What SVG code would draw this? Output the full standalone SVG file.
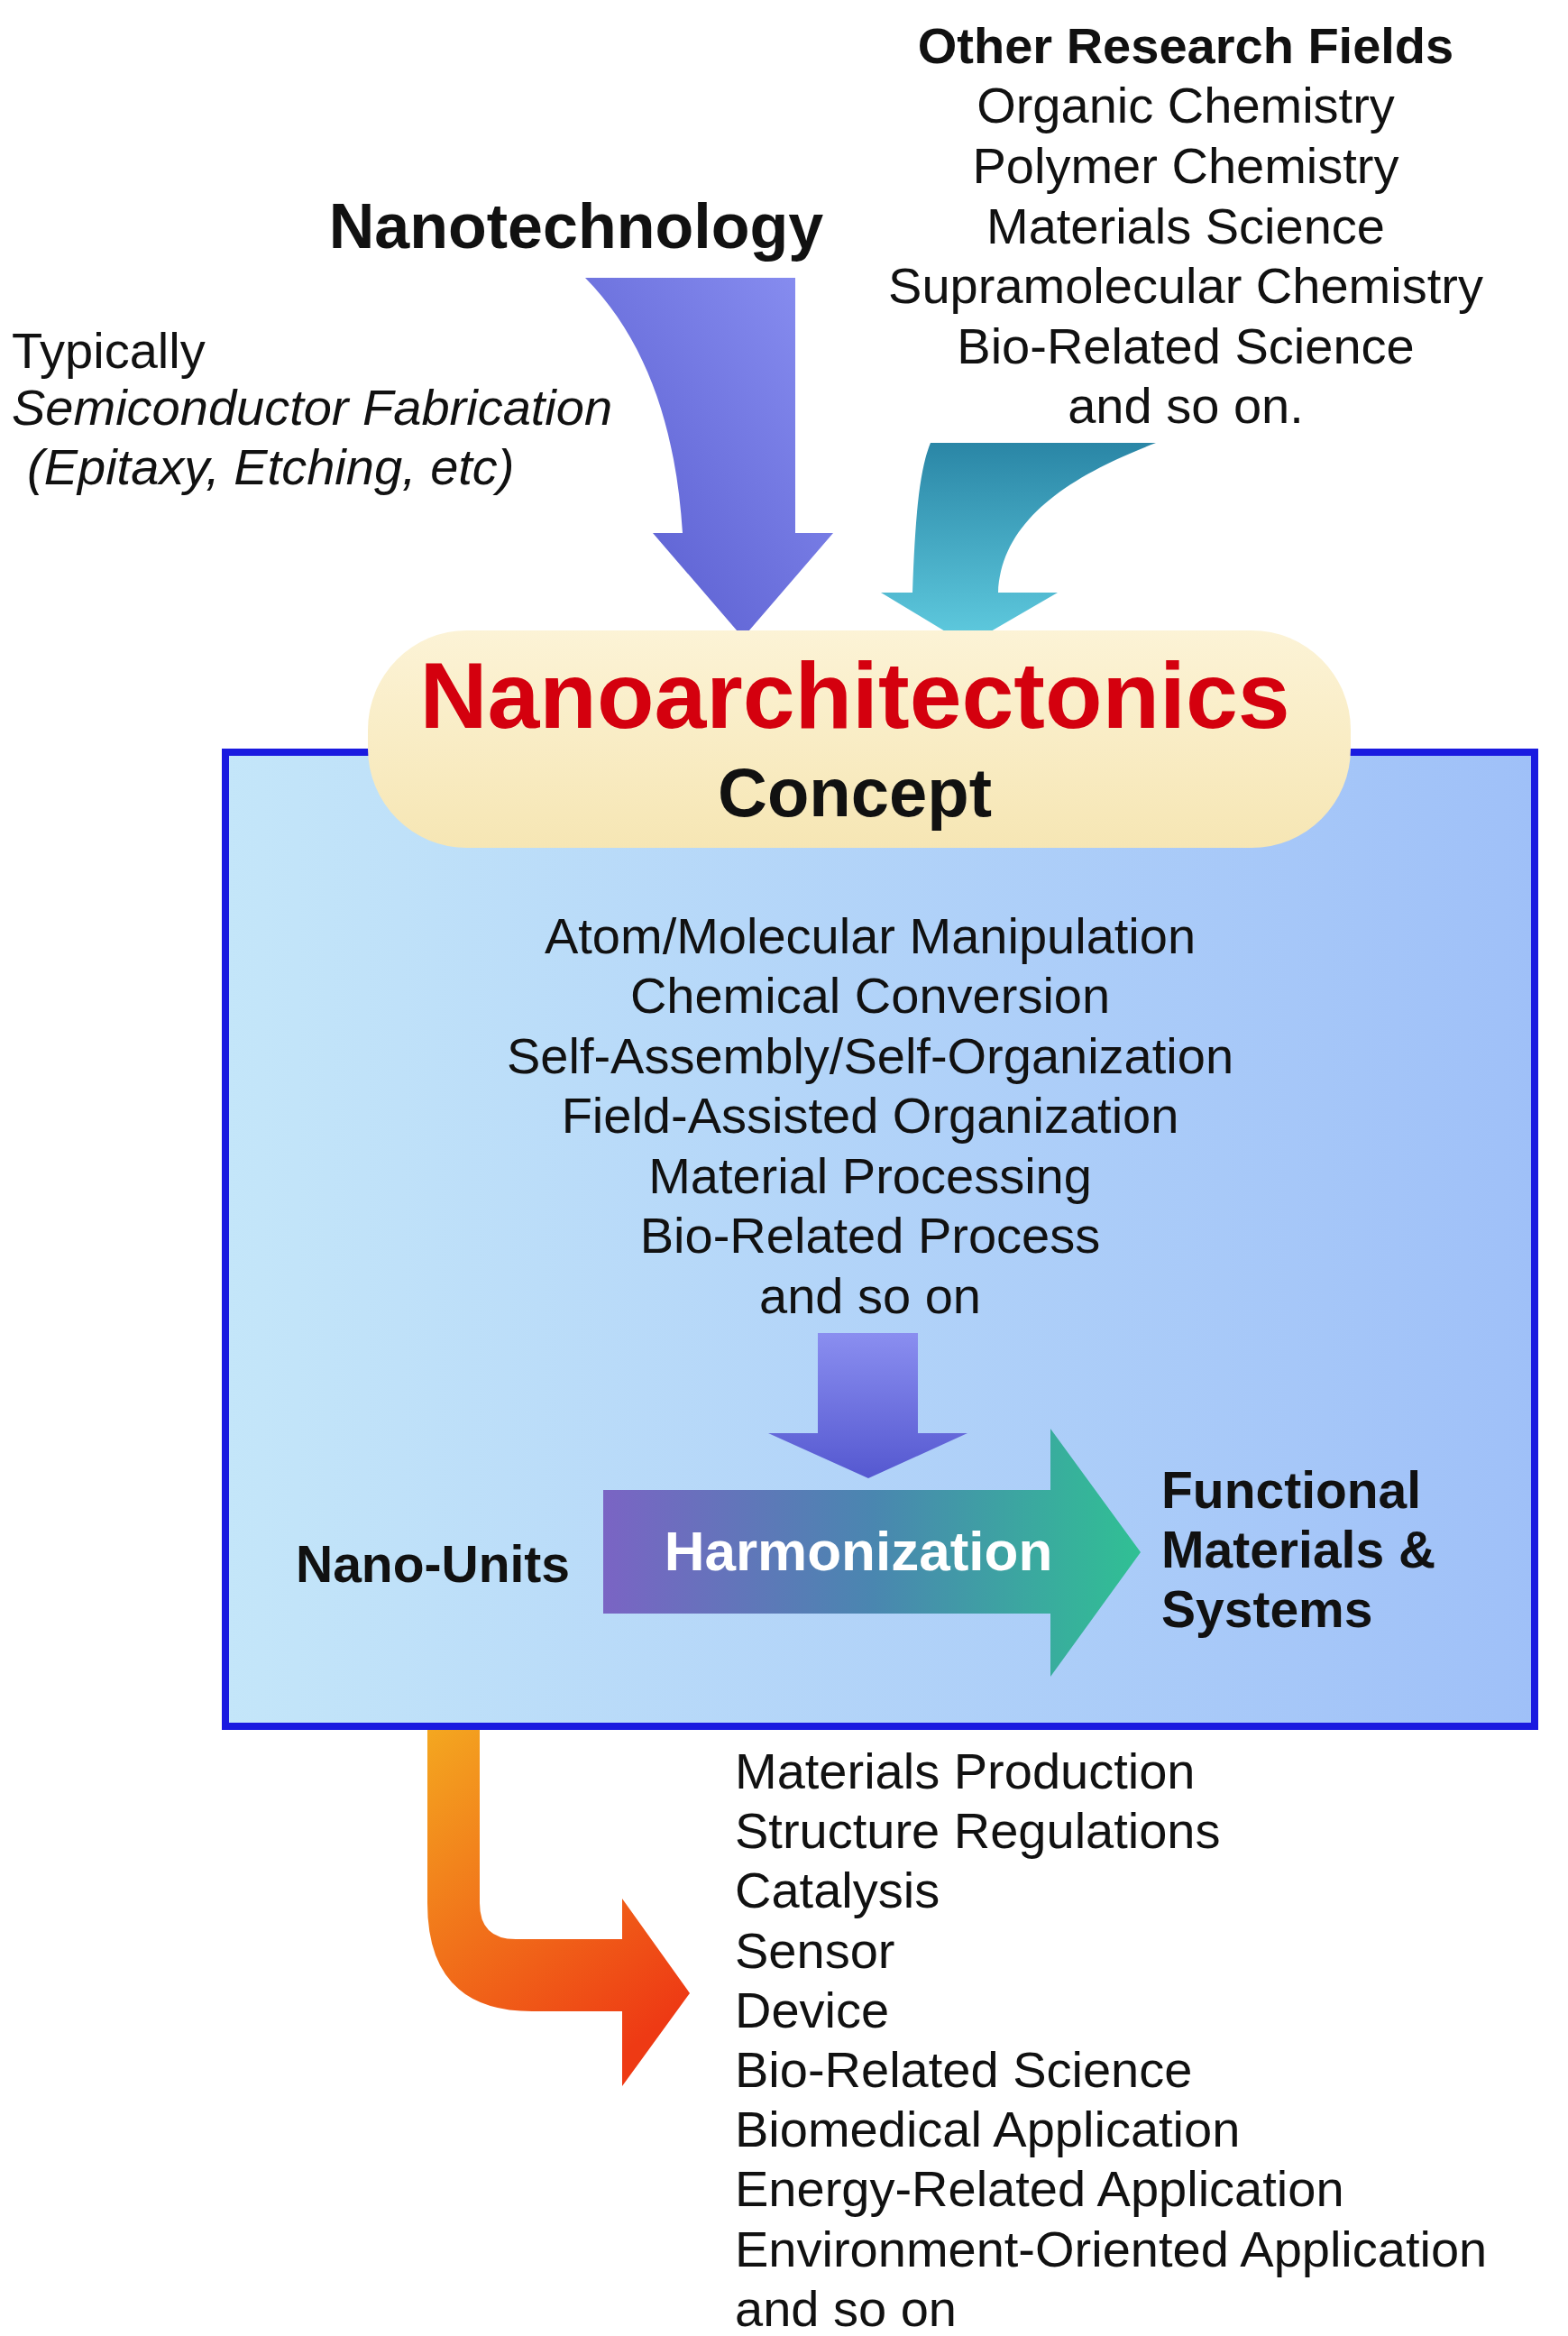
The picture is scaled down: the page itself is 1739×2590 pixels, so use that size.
<svg xmlns="http://www.w3.org/2000/svg" width="1739" height="2590" viewBox="0 0 1739 2590">
<defs>
<linearGradient id="box" x1="0" y1="0" x2="1" y2="0"><stop offset="0" stop-color="#c4e6f9"/><stop offset="1" stop-color="#9fc0f8"/></linearGradient>
<linearGradient id="pill" x1="0" y1="0" x2="0" y2="1"><stop offset="0" stop-color="#fcf3d6"/><stop offset="1" stop-color="#f6e6b4"/></linearGradient>
<linearGradient id="nano" x1="1" y1="0" x2="0" y2="1"><stop offset="0" stop-color="#8a90f2"/><stop offset="1" stop-color="#5458cc"/></linearGradient>
<linearGradient id="cyan" x1="0" y1="0" x2="0" y2="1"><stop offset="0" stop-color="#2a86a6"/><stop offset="1" stop-color="#60cce0"/></linearGradient>
<linearGradient id="down" x1="0" y1="0" x2="0" y2="1"><stop offset="0" stop-color="#8a8ef0"/><stop offset="1" stop-color="#5558d0"/></linearGradient>
<linearGradient id="harm" x1="0" y1="0" x2="1" y2="0"><stop offset="0" stop-color="#7a64c4"/><stop offset="0.5" stop-color="#4a86b0"/><stop offset="1" stop-color="#30c094"/></linearGradient>
<linearGradient id="orange" x1="0" y1="0" x2="0.6" y2="1"><stop offset="0" stop-color="#f4a820"/><stop offset="1" stop-color="#ee3a14"/></linearGradient>
</defs>
<style>
text{font-family:"Liberation Sans",Arial,sans-serif;fill:#111}
.r{font-size:56px}
.c{text-anchor:middle}
.b{font-weight:bold}
.i{font-style:italic}
</style>
<g id="connectors">
<path id="nanotech-arrow" d="M649,308 L882,308 L882,591 L924,591 L824,707 L724,591 L757,591 C750,480 720,380 649,308 Z" fill="url(#nano)"/>
<path id="other-arrow" d="M1032,491 L1282,491 C1180,530 1110,580 1107,657 L1173,657 L1073,715 L977,657 L1012,657 C1015,570 1020,520 1032,491 Z" fill="url(#cyan)"/>
<path id="orange-arrow" d="M474,1914 L532,1914 L532,2110 Q532,2150 572,2150 L690,2150 L690,2105 L765,2210 L690,2313 L690,2230 L590,2230 Q474,2230 474,2110 Z" fill="url(#orange)"/>
</g>
<g id="box">
<rect x="250" y="834" width="1452" height="1080" fill="url(#box)" stroke="#1a1ae0" stroke-width="8"/>
</g>
<g id="concept">
<rect x="408" y="699" width="1090" height="241" rx="110" fill="url(#pill)"/>
<text x="948" y="807" class="c b" font-size="104" style="fill:#d4000e">Nanoarchitectonics</text>
<text x="948" y="905" class="c b" font-size="76">Concept</text>
</g>
<g id="nanotechnology">
<text x="639" y="275" class="c b" font-size="70">Nanotechnology</text>
</g>
<g id="typically">
<text x="13" y="408" class="r">Typically</text>
<text x="13" y="471" class="r i">Semiconductor Fabrication</text>
<text x="30" y="537" class="r i">(Epitaxy, Etching, etc)</text>
</g>
<g id="other-fields">
<text x="1315" y="70" class="r c b">Other Research Fields</text>
<text x="1315" y="136" class="r c">Organic Chemistry</text>
<text x="1315" y="203" class="r c">Polymer Chemistry</text>
<text x="1315" y="270" class="r c">Materials Science</text>
<text x="1315" y="336" class="r c">Supramolecular Chemistry</text>
<text x="1315" y="403" class="r c">Bio-Related Science</text>
<text x="1315" y="469" class="r c">and so on.</text>
</g>
<g id="methods">
<text x="965" y="1057" class="r c">Atom/Molecular Manipulation</text>
<text x="965" y="1123" class="r c">Chemical Conversion</text>
<text x="965" y="1190" class="r c">Self-Assembly/Self-Organization</text>
<text x="965" y="1256" class="r c">Field-Assisted Organization</text>
<text x="965" y="1323" class="r c">Material Processing</text>
<text x="965" y="1389" class="r c">Bio-Related Process</text>
<text x="965" y="1456" class="r c">and so on</text>
</g>
<g id="down-arrow">
<path d="M907,1478 L1018,1478 L1018,1589 L1073,1589 L963,1639 L852,1589 L907,1589 Z" fill="url(#down)"/>
</g>
<g id="harmonization">
<path d="M669,1652 L1165,1652 L1165,1584 L1265,1721 L1165,1859 L1165,1789 L669,1789 Z" fill="url(#harm)"/>
<text x="952" y="1741" class="c b" font-size="62" style="fill:#fff">Harmonization</text>
</g>
<g id="nano-units">
<text x="328" y="1754" class="b" font-size="57">Nano-Units</text>
</g>
<g id="functional">
<text x="1288" y="1672" class="b" font-size="57">Functional</text>
<text x="1288" y="1738" class="b" font-size="57">Materials &amp;</text>
<text x="1288" y="1804" class="b" font-size="57">Systems</text>
</g>
<g id="applications">
<text x="815" y="1983" class="r">Materials Production</text>
<text x="815" y="2049" class="r">Structure Regulations</text>
<text x="815" y="2115" class="r">Catalysis</text>
<text x="815" y="2182" class="r">Sensor</text>
<text x="815" y="2248" class="r">Device</text>
<text x="815" y="2314" class="r">Bio-Related Science</text>
<text x="815" y="2380" class="r">Biomedical Application</text>
<text x="815" y="2446" class="r">Energy-Related Application</text>
<text x="815" y="2513" class="r">Environment-Oriented Application</text>
<text x="815" y="2579" class="r">and so on</text>
</g>
</svg>
